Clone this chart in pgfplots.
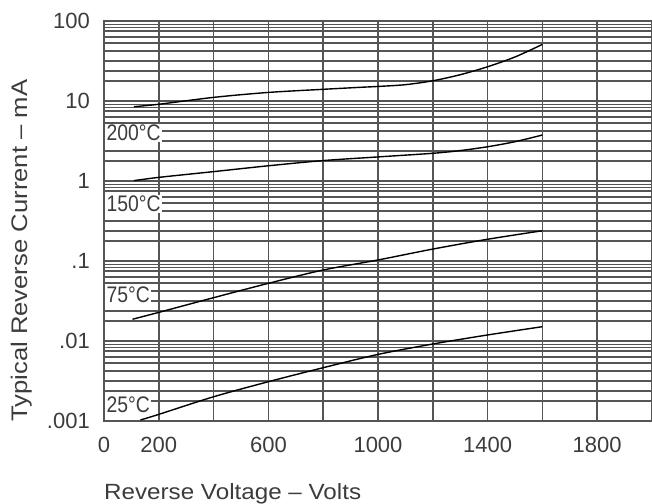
\documentclass[border=0pt]{standalone}
\usepackage{fontspec}
\setmainfont{Liberation Sans}
\newfontfamily\tickfont{Liberation Sans}
\newfontfamily\labfont[FakeStretch=1.1]{Liberation Sans}
\newfontfamily\ylabfont[FakeStretch=1.14]{Liberation Sans}
\newfontfamily\curvefont[FakeStretch=0.86]{Liberation Sans}
\usepackage{pgfplots}
\pgfplotsset{compat=1.18}
\definecolor{gridgray}{HTML}{555555}
\definecolor{txtgray}{HTML}{3C3C3C}
\begin{document}
\begin{tikzpicture}
\useasboundingbox (0,0) rectangle (652bp,504bp);
\begin{axis}[
  at={(104bp,83bp)}, anchor=south west,
  scale only axis, width=548bp, height=400bp,
  xmin=0, xmax=2000, ymode=log, ymin=0.001, ymax=100,
  xtick={0,200,...,2000},
  xticklabels={0,200,,600,,1000,,1400,,1800,},
  ytick={0.001,0.01,0.1,1,10,100},
  yticklabels={.001,.01,.1,1,10,100},
  minor ytick={0.001778,0.002371,0.003162,0.004217,0.005309,0.00631,0.007499,0.00826,0.00908,
    0.01778,0.02371,0.03162,0.04217,0.05309,0.0631,0.07499,0.0826,0.0908,
    0.1778,0.2371,0.3162,0.4217,0.5309,0.631,0.7499,0.826,0.908,
    1.778,2.371,3.162,4.217,5.309,6.31,7.499,8.26,9.08,
    17.78,23.71,31.62,42.17,53.09,63.1,74.99,82.6,90.8},
  major tick length=0pt, minor tick length=0pt,
  xmajorgrids, ymajorgrids, yminorgrids,
  grid style={gridgray, line width=1.6bp},
  minor grid style={gridgray, line width=1.6bp},
  axis line style={gridgray, line width=1.8bp},
  cycle list={{black}},
  xticklabel style={inner sep=0pt, yshift=-16bp, text=txtgray, font=\tickfont\fontsize{22bp}{26bp}\selectfont},
  yticklabel style={inner sep=0pt, xshift=-14bp, text=txtgray, font=\tickfont\fontsize{22bp}{26bp}\selectfont},
  xlabel={Reverse Voltage – Volts},
  ylabel={Typical Reverse Current – mA},
  xlabel style={at={(axis description cs:0,-0.195)}, anchor=base west, inner sep=0pt, text=txtgray, font=\labfont\fontsize{22bp}{26bp}\selectfont},
  ylabel style={at={(axis description cs:-0.1405,-0.0025)}, anchor=base west, inner sep=0pt, text=txtgray, font=\ylabfont\fontsize{22.5bp}{26bp}\selectfont},
]
% 200 C
\addplot[black, line width=1.4bp, smooth, tension=0.5] coordinates {(109,8.49) (200,9.1) (400,11.1) (600,12.8) (800,14.0) (931,14.8) (1000,15.2) (1100,16.0) (1200,17.9) (1300,21.3) (1400,26.8) (1500,35.5) (1600,51)};
% 150 C
\addplot[black, line width=1.4bp, smooth, tension=0.5] coordinates {(109,1.01) (200,1.11) (400,1.31) (600,1.55) (800,1.8) (1000,2.0) (1200,2.22) (1300,2.4) (1400,2.68) (1500,3.1) (1600,3.76)};
% 75 C
\addplot[black, line width=1.4bp, smooth, tension=0.5] coordinates {(104,0.0187) (200,0.0228) (400,0.0348) (600,0.0526) (800,0.0772) (1000,0.103) (1200,0.141) (1400,0.187) (1600,0.239)};
% 25 C
\addplot[black, line width=1.4bp, smooth, tension=0.5] coordinates {(133,0.00103) (200,0.00121) (400,0.00201) (600,0.0031) (800,0.00464) (1000,0.0068) (1200,0.00917) (1400,0.0119) (1600,0.0151)};
\begin{scope}[every node/.style={fill=white, inner sep=1.2bp, anchor=west, xshift=1.3bp, text=txtgray, font=\curvefont\fontsize{22.5bp}{22.5bp}\selectfont}]
\node at (axis cs:0,3.98) {200°C};
\node at (axis cs:0,0.516) {150°C};
\node at (axis cs:0,0.0376) {75°C};
\node at (axis cs:0,0.00158) {25°C};
\end{scope}
\end{axis}
\end{tikzpicture}
\end{document}
